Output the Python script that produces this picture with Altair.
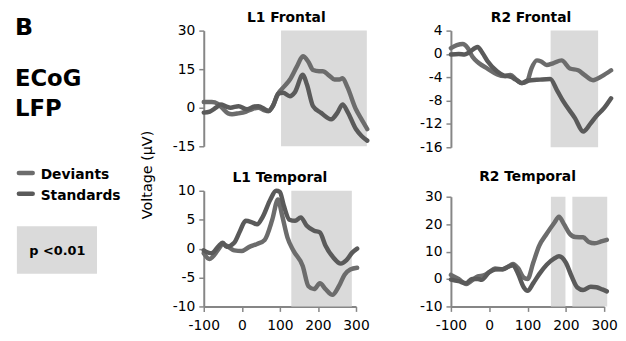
import altair as alt
import pandas as pd

FONT = "DejaVu Sans"
SERIES = ["Deviants", "Standards"]
LINE_COLORS = ["#6c6c6c", "#5a5a5a"]
SHADE = "#dadada"
AXIS_GREY = "#868686"

# ---------------- L1 Frontal ----------------
tl_title = "L1 Frontal"
tl_dev_t = [-100, -80, -65, -55, -40, -30, -15, 5, 20, 35, 50, 60, 70, 84, 100, 113, 130, 145, 158, 170, 185, 194, 210, 223, 235, 243, 255, 276, 290, 304]
tl_dev_v = [2.2, 2.2, 1.5, 0.0, -2.2, -2.5, -2.2, -1.5, -0.5, 0.0, -1.0, -1.3, 0.5, 5.5, 8.5, 11.0, 16.0, 20.0, 18.0, 14.7, 14.2, 14.2, 12.5, 11.0, 11.0, 11.5, 8.0, -0.6, -4.5, -8.3]
tl_std_t = [-100, -85, -70, -58, -45, -34, -14, 7, 25, 35, 50, 60, 72, 84, 96, 113, 125, 145, 155, 170, 190, 215, 230, 243, 255, 276, 290, 304]
tl_std_v = [-1.9, -1.5, 0.0, 1.3, 0.5, 0.0, 0.6, -0.6, 0.5, 0.6, -0.5, -1.3, 1.0, 5.5, 5.8, 4.5, 6.0, 12.8, 9.0, 0.6, -2.0, -4.5, -2.0, 1.3, -1.5, -8.3, -11.0, -12.8]
tl_shade = [(91, 303)]
tl_ydom = [-15, 30]
tl_yticks = [-15, 0, 15, 30]

# ---------------- R2 Frontal ----------------
tr_title = "R2 Frontal"
tr_dev_t = [-100, -85, -70, -57, -45, -30, -7, 18, 35, 52, 65, 81, 94, 105, 119, 130, 144, 160, 182, 203, 224, 240, 262, 285, 308]
tr_dev_v = [1.0, 1.5, 1.7, 1.0, -0.5, -1.5, -2.5, -3.5, -3.8, -3.6, -4.3, -5.0, -4.7, -2.5, -1.1, -1.3, -1.9, -1.6, -1.1, -2.5, -2.8, -3.6, -4.5, -3.8, -2.8]
tr_std_t = [-100, -80, -65, -55, -32, -20, -7, 18, 35, 52, 65, 81, 94, 127, 153, 170, 186, 216, 237, 255, 270, 290, 308]
tr_std_v = [-0.1, 0.0, -0.1, 0.2, 1.2, 0.2, -1.2, -3.0, -3.7, -3.9, -4.4, -5.0, -4.6, -4.4, -4.3, -6.2, -8.1, -11.0, -13.3, -12.0, -10.7, -9.3, -7.6]
tr_shade = [(154, 275)]
tr_ydom = [-16, 4]
tr_yticks = [-16, -12, -8, -4, 0, 4]

# ---------------- L1 Temporal ----------------
bl_title = "L1 Temporal"
bl_dev_t = [-100, -85, -60, -50, -40, -20, 0, 20, 40, 60, 80, 95, 105, 120, 135, 160, 175, 190, 205, 220, 238, 255, 270, 285, 303]
bl_dev_v = [-0.8, -1.8, 0.0, 0.8, 0.5, -0.3, -0.4, 0.3, 0.8, 1.5, 5.0, 8.5, 6.0, 1.9, -0.3, -3.0, -6.5, -7.0, -6.0, -7.0, -8.0, -6.5, -4.5, -3.6, -3.3]
bl_std_t = [-100, -80, -60, -50, -40, -20, -5, 10, 25, 40, 55, 75, 90, 100, 110, 125, 140, 155, 170, 190, 205, 220, 240, 260, 275, 290, 303]
bl_std_v = [-0.3, -0.8, 0.5, 1.0, 0.3, 1.0, 3.0, 4.8, 4.6, 4.2, 5.5, 8.5, 10.0, 9.8, 7.5, 5.0, 4.8, 5.4, 4.0, 3.1, 2.8, 0.5, -1.5, -2.6, -2.0, -0.7, 0.0]
bl_shade = [(130, 289)]
bl_ydom = [-10, 10]
bl_yticks = [-10, -5, 0, 5, 10]

# ---------------- R2 Temporal ----------------
br_title = "R2 Temporal"
br_dev_t = [-100, -80, -60, -45, -30, -15, 0, 15, 35, 50, 62, 75, 90, 100, 115, 130, 150, 170, 182, 195, 210, 225, 245, 260, 275, 295, 307]
br_dev_v = [1.5, 0.0, -1.8, -0.5, 1.0, 1.3, 2.5, 3.8, 3.5, 4.5, 5.5, 4.0, 0.5, 0.0, 6.0, 12.0, 16.5, 20.5, 22.7, 20.0, 16.5, 15.3, 15.2, 13.5, 13.0, 13.8, 14.3]
br_std_t = [-100, -80, -60, -45, -30, -20, 0, 15, 35, 50, 62, 75, 90, 100, 115, 130, 150, 170, 182, 200, 215, 230, 245, 265, 280, 295, 307]
br_std_v = [-0.2, -0.8, -1.5, 0.0, 0.0, -0.3, 2.5, 3.5, 3.6, 4.5, 5.0, 2.0, -3.0, -4.3, -1.5, 1.7, 5.2, 7.5, 8.3, 6.0, 1.0, -3.1, -4.0, -2.8, -3.0, -3.8, -4.5]
br_shade = [(161, 199), (217, 308)]
br_ydom = [-10, 30]
br_yticks = [-10, 0, 10, 20, 30]

x_ticks = [-100, 0, 100, 200, 300]

LABEL_EXPR = "toString(datum.value)"


def panel(title, dt, dv, st, sv, shades, xdom, ydom, yticks, w, h,
          show_x, toff, yrange=None):
    df = pd.DataFrame({
        "t": dt + st,
        "v": dv + sv,
        "s": [SERIES[0]] * len(dt) + [SERIES[1]] * len(st),
    })
    sh = pd.DataFrame({
        "x0": [a for a, b in shades],
        "x1": [b for a, b in shades],
        "y0": [ydom[0]] * len(shades),
        "y1": [ydom[1]] * len(shades),
    })
    xs = alt.Scale(domain=xdom, nice=False, zero=False)
    if yrange is None:
        ys = alt.Scale(domain=ydom, nice=False, zero=False)
    else:
        ys = alt.Scale(domain=ydom, nice=False, zero=False, range=yrange)
    if show_x:
        xaxis = alt.Axis(values=x_ticks, title=None, grid=False, labelFlush=False,
                         labelExpr=LABEL_EXPR)
    else:
        xaxis = None
    yaxis = alt.Axis(values=yticks, title=None, grid=False, labelExpr=LABEL_EXPR)
    rect = alt.Chart(sh).mark_rect(color=SHADE).encode(
        x=alt.X("x0:Q", scale=xs, axis=xaxis),
        x2="x1:Q",
        y=alt.Y("y0:Q", scale=ys, axis=yaxis),
        y2="y1:Q",
    )
    lines = alt.Chart(df).mark_line(
        strokeWidth=4.5, interpolate="monotone", strokeCap="round", strokeJoin="round"
    ).encode(
        x=alt.X("t:Q", scale=xs, axis=xaxis),
        y=alt.Y("v:Q", scale=ys, axis=yaxis),
        color=alt.Color("s:N", scale=alt.Scale(domain=SERIES, range=LINE_COLORS), legend=None),
        order=alt.Order("t:Q"),
    )
    return alt.layer(rect, lines).properties(
        width=w, height=h,
        title=alt.TitleParams(title, font=FONT, fontSize=14, fontWeight="bold",
                              anchor="middle", frame="group", baseline="alphabetic",
                              offset=toff, color="#000000"),
    )


TL = panel(tl_title, tl_dev_t, tl_dev_v, tl_std_t, tl_std_v, tl_shade, [-100, 308],
           tl_ydom, tl_yticks, 167, 117, False, -12)
TR = panel(tr_title, tr_dev_t, tr_dev_v, tr_std_t, tr_std_v, tr_shade, [-100, 308],
           tr_ydom, tr_yticks, 162, 118, False, -12)
BL = panel(bl_title, bl_dev_t, bl_dev_v, bl_std_t, bl_std_v, bl_shade, [-100, 300],
           bl_ydom, bl_yticks, 154, 117, True, -12)
BR = panel(br_title, br_dev_t, br_dev_v, br_std_t, br_std_v, br_shade, [-100, 300],
           br_ydom, br_yticks, 155, 117, True, -5, yrange=[117, 6])

# ---------------- left column (labels, legend, p box) ----------------
one = pd.DataFrame({"a": [0]})
base = alt.Chart(one)


def txt(s, x, y, size, weight="bold", angle=0, align="left", baseline="alphabetic"):
    return base.mark_text(text=s, font=FONT, fontSize=size, fontWeight=weight, angle=angle,
                          align=align, baseline=baseline, color="#000000").encode(
        x=alt.value(x), y=alt.value(y))


def legline(color, x1, x2, y):
    return base.mark_rule(color=color, strokeWidth=4.5, strokeCap="round").encode(
        x=alt.value(x1), x2=alt.value(x2), y=alt.value(y))


pbox = base.mark_rect(color=SHADE).encode(
    x=alt.value(6), x2=alt.value(87), y=alt.value(198), y2=alt.value(246))

left = alt.layer(
    txt("B", 4, 4, 24),
    txt("ECoG", 4, 56, 23),
    txt("LFP", 4, 86, 23),
    legline(LINE_COLORS[0], 8, 22, 144),
    legline(LINE_COLORS[1], 8, 22, 165),
    txt(SERIES[0], 30, 150, 14),
    txt(SERIES[1], 30, 171, 14),
    pbox,
    txt("p <0.01", 47, 227, 13, align="center"),
    txt("Voltage (µV)", 139, 146, 14.5, weight="normal", angle=270,
        align="center", baseline="middle"),
).properties(width=112, height=110)

spacer = base.mark_point(opacity=0).encode(x=alt.value(0), y=alt.value(0)).properties(
    width=112, height=10)

chart = alt.concat(
    left, TL, TR, spacer, BL, BR, columns=3,
    spacing={"row": 44, "column": 83}, bounds="flush",
).properties(
    padding={"left": 0, "top": 1, "right": 0, "bottom": 0},
).configure_view(strokeWidth=0).configure_axis(
    domainColor=AXIS_GREY, domainWidth=2, tickColor=AXIS_GREY, tickWidth=1.5,
    tickSize=5, labelFont=FONT, labelFontSize=14, labelColor="#000000",
    labelPadding=4,
).configure_axisX(labelPadding=7)

chart.save("out.html", embed_options={"renderer": "svg", "actions": False})
